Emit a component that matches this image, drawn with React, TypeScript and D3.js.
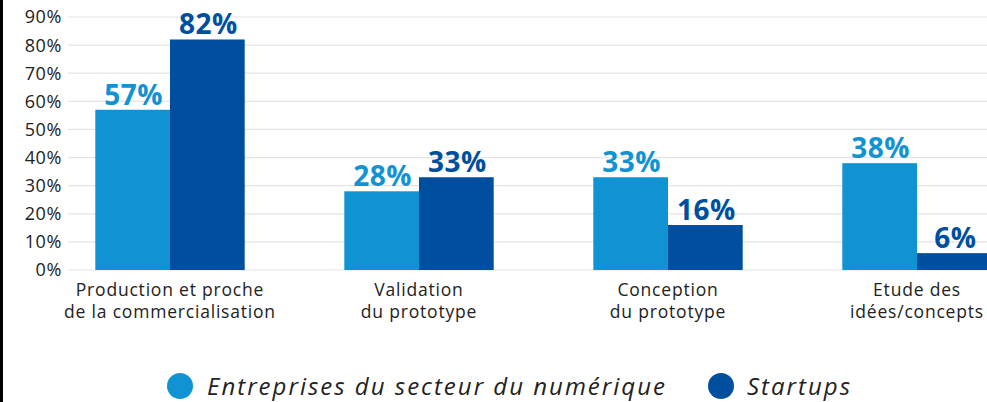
import React from "react";
import * as d3 from "d3";

const categories = [
  ["Production et proche", "de la commercialisation"],
  ["Validation", "du prototype"],
  ["Conception", "du prototype"],
  ["Etude des", "idées/concepts"],
];
const seriesNames = ["Entreprises du secteur du numérique", "Startups"];
const entreprises = [57, 28, 33, 38];
const startups = [82, 33, 16, 6];
const yTicks = [0, 10, 20, 30, 40, 50, 60, 70, 80, 90];

const colors = ["#1193d3", "#004f9f"];
const W = 987;
const H = 402;

export default function App() {
  const x0 = d3
    .scaleBand<number>()
    .domain(d3.range(categories.length))
    .range([45.5, 1041.5])
    .paddingInner(0.4)
    .paddingOuter(0.2);
  const x1 = d3
    .scaleBand<number>()
    .domain([0, 1])
    .range([0, x0.bandwidth()]);
  const y = d3.scaleLinear().domain([0, 90]).range([270, 17]);
  const series = [entreprises, startups];

  return (
    <div style={{ position: "absolute", left: 0, top: 0 }}>
      <svg width={W} height={H} style={{ display: "block", background: "#fff" }}>
        <rect x={0} y={0} width={3} height={H} fill="#000" />
        {yTicks.map((t) => (
          <g key={t}>
            <line x1={68} x2={W} y1={y(t)} y2={y(t)} stroke="#e4e4e4" strokeWidth={1.2} />
            <text
              x={62}
              y={y(t)}
              dy="0.36em"
              textAnchor="end"
              fontFamily="Open Sans"
              fontSize={18}
              letterSpacing={0.6}
              fill="#222"
            >
              {t}%
            </text>
          </g>
        ))}
        {categories.map((cat, i) => (
          <g key={i} transform={`translate(${x0(i)},0)`}>
            {series.map((s, j) => (
              <g key={j}>
                <rect
                  x={x1(j)}
                  y={y(s[i])}
                  width={x1.bandwidth()}
                  height={y(0) - y(s[i])}
                  fill={colors[j]}
                />
                <text
                  x={(x1(j) as number) + x1.bandwidth() / 2 + 1}
                  y={y(s[i]) - 5}
                  textAnchor="middle"
                  fontFamily="Open Sans"
                  fontWeight={700}
                  fontSize={28}
                  letterSpacing={0.5}
                  fill={colors[j]}
                >
                  {s[i]}%
                </text>
              </g>
            ))}
            {cat.map((line, k) => (
              <text
                key={k}
                x={x0.bandwidth() / 2}
                y={296 + k * 22}
                textAnchor="middle"
                fontFamily="Open Sans"
                fontSize={17.5}
                letterSpacing={0.8}
                fill="#222"
              >
                {line}
              </text>
            ))}
          </g>
        ))}
        <g>
          <circle cx={180} cy={386} r={13} fill={colors[0]} />
          <text x={207} y={395} fontFamily="Open Sans" fontStyle="italic" fontSize={24} letterSpacing={2} fill="#222">
            {seriesNames[0]}
          </text>
          <circle cx={721} cy={386} r={13} fill={colors[1]} />
          <text x={747} y={395} fontFamily="Open Sans" fontStyle="italic" fontSize={24} letterSpacing={2} fill="#222">
            {seriesNames[1]}
          </text>
        </g>
      </svg>
    </div>
  );
}
